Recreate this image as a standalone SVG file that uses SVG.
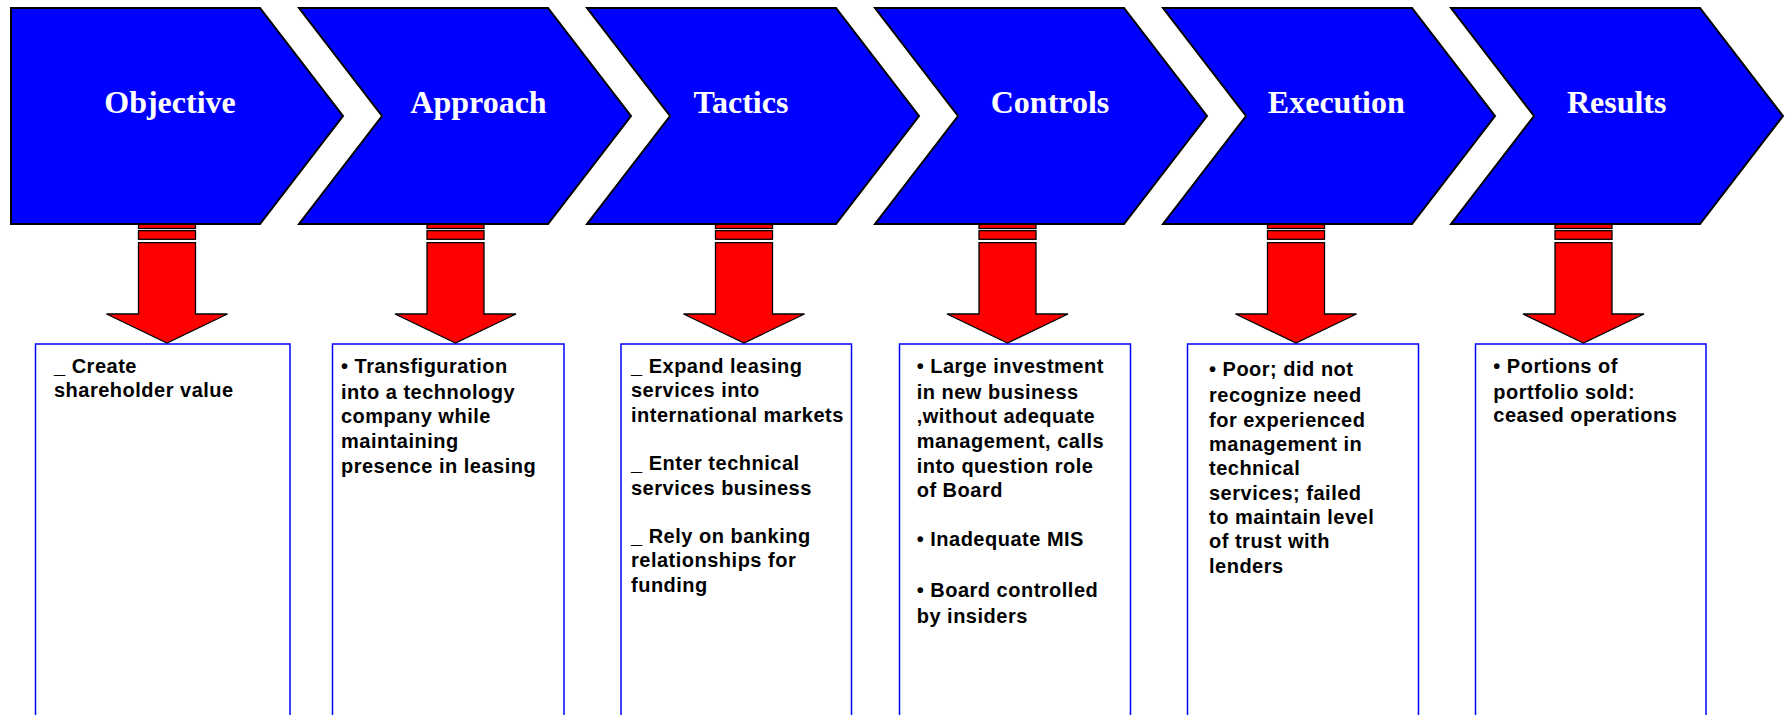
<svg xmlns="http://www.w3.org/2000/svg" width="1785" height="715" viewBox="0 0 1785 715">
<style>
.chev{fill:#0000FF;stroke:#000;stroke-width:2;stroke-linejoin:miter}
.title{font-family:"Liberation Serif","Times New Roman",serif;font-weight:bold;font-size:32px;fill:#fff;text-anchor:middle}
.arrow{fill:#FF0000;stroke:#000;stroke-width:1.3;stroke-linejoin:miter}
.box{fill:#fff;stroke:#0000FF;stroke-width:1.5}
.body{font-family:"Liberation Sans",Arial,sans-serif;font-weight:bold;font-size:20px;letter-spacing:0.5px;fill:#000}
</style>
<rect width="1785" height="715" fill="#fff"/>
<g id="boxes">
<rect id="box-objective" class="box" x="35.5" y="344" width="254.5" height="400"/>
<rect id="box-approach" class="box" x="332.5" y="344" width="231.5" height="400"/>
<rect id="box-tactics" class="box" x="621" y="344" width="230.5" height="400"/>
<rect id="box-controls" class="box" x="899.5" y="344" width="231" height="400"/>
<rect id="box-execution" class="box" x="1187.5" y="344" width="231" height="400"/>
<rect id="box-results" class="box" x="1475.5" y="344" width="230.5" height="400"/>
</g>
<g id="connectors">
<g transform="translate(167,0)">
<rect class="arrow" x="-28.5" y="222" width="57" height="6.5"/><rect class="arrow" x="-28.5" y="230.7" width="57" height="8.6"/>
<path class="arrow" d="M-28.5,242.7 V314 H-60.5 L0,343 L60.5,314 H28.5 V242.7 Z"/></g>
<g transform="translate(455.5,0)">
<rect class="arrow" x="-28.5" y="222" width="57" height="6.5"/><rect class="arrow" x="-28.5" y="230.7" width="57" height="8.6"/>
<path class="arrow" d="M-28.5,242.7 V314 H-60.5 L0,343 L60.5,314 H28.5 V242.7 Z"/></g>
<g transform="translate(744,0)">
<rect class="arrow" x="-28.5" y="222" width="57" height="6.5"/><rect class="arrow" x="-28.5" y="230.7" width="57" height="8.6"/>
<path class="arrow" d="M-28.5,242.7 V314 H-60.5 L0,343 L60.5,314 H28.5 V242.7 Z"/></g>
<g transform="translate(1007.5,0)">
<rect class="arrow" x="-28.5" y="222" width="57" height="6.5"/><rect class="arrow" x="-28.5" y="230.7" width="57" height="8.6"/>
<path class="arrow" d="M-28.5,242.7 V314 H-60.5 L0,343 L60.5,314 H28.5 V242.7 Z"/></g>
<g transform="translate(1296,0)">
<rect class="arrow" x="-28.5" y="222" width="57" height="6.5"/><rect class="arrow" x="-28.5" y="230.7" width="57" height="8.6"/>
<path class="arrow" d="M-28.5,242.7 V314 H-60.5 L0,343 L60.5,314 H28.5 V242.7 Z"/></g>
<g transform="translate(1583.5,0)">
<rect class="arrow" x="-28.5" y="222" width="57" height="6.5"/><rect class="arrow" x="-28.5" y="230.7" width="57" height="8.6"/>
<path class="arrow" d="M-28.5,242.7 V314 H-60.5 L0,343 L60.5,314 H28.5 V242.7 Z"/></g>
</g>
<g id="node-objective">
<polygon class="chev" points="11,8 260,8 343,116 260,224 11,224"/>
<text class="title" x="170" y="113">Objective</text>
</g>
<g id="node-approach">
<polygon class="chev" points="299,8 548,8 631,116 548,224 299,224 382,116"/>
<text class="title" x="478.5" y="113">Approach</text>
</g>
<g id="node-tactics">
<polygon class="chev" points="587,8 836,8 919,116 836,224 587,224 670,116"/>
<text class="title" x="741" y="113">Tactics</text>
</g>
<g id="node-controls">
<polygon class="chev" points="875,8 1124,8 1207,116 1124,224 875,224 958,116"/>
<text class="title" x="1050" y="113">Controls</text>
</g>
<g id="node-execution">
<polygon class="chev" points="1163,8 1412,8 1495,116 1412,224 1163,224 1246,116"/>
<text class="title" x="1336.3" y="113">Execution</text>
</g>
<g id="node-results">
<polygon class="chev" points="1451,8 1700,8 1783,116 1700,224 1451,224 1534,116"/>
<text class="title" x="1616.7" y="113">Results</text>
</g>
<g id="text-objective" class="body">
<text x="54" y="372.7">_ Create</text>
<text x="54" y="396.7">shareholder value</text>
</g>
<g id="text-approach" class="body">
<text x="341" y="372.7">• Transfiguration</text>
<text x="341" y="399.3">into a technology</text>
<text x="341" y="422.7">company while</text>
<text x="341" y="448.3">maintaining</text>
<text x="341" y="472.7">presence in leasing</text>
</g>
<g id="text-tactics" class="body">
<text x="631" y="373">_ Expand leasing</text>
<text x="631" y="397.3">services into</text>
<text x="631" y="421.6">international markets</text>
<text x="631" y="470.2">_ Enter technical</text>
<text x="631" y="494.5">services business</text>
<text x="631" y="543">_ Rely on banking</text>
<text x="631" y="567.4">relationships for</text>
<text x="631" y="591.7">funding</text>
</g>
<g id="text-controls" class="body">
<text x="916.7" y="372.7">• Large investment</text>
<text x="916.7" y="399.3">in new business</text>
<text x="916.7" y="423.3">,without adequate</text>
<text x="916.7" y="448.3">management, calls</text>
<text x="916.7" y="473.3">into question role</text>
<text x="916.7" y="497.3">of Board</text>
<text x="916.7" y="546">• Inadequate MIS</text>
<text x="916.7" y="597.3">• Board controlled</text>
<text x="916.7" y="622.7">by insiders</text>
</g>
<g id="text-execution" class="body">
<text x="1209" y="375.7">• Poor; did not</text>
<text x="1209" y="401.7">recognize need</text>
<text x="1209" y="426.7">for experienced</text>
<text x="1209" y="451">management in</text>
<text x="1209" y="475">technical</text>
<text x="1209" y="500">services; failed</text>
<text x="1209" y="524.3">to maintain level</text>
<text x="1209" y="548.3">of trust with</text>
<text x="1209" y="572.7">lenders</text>
</g>
<g id="text-results" class="body">
<text x="1493.3" y="373.3">• Portions of</text>
<text x="1493.3" y="399.3">portfolio sold:</text>
<text x="1493.3" y="421.7">ceased operations</text>
</g>
</svg>
